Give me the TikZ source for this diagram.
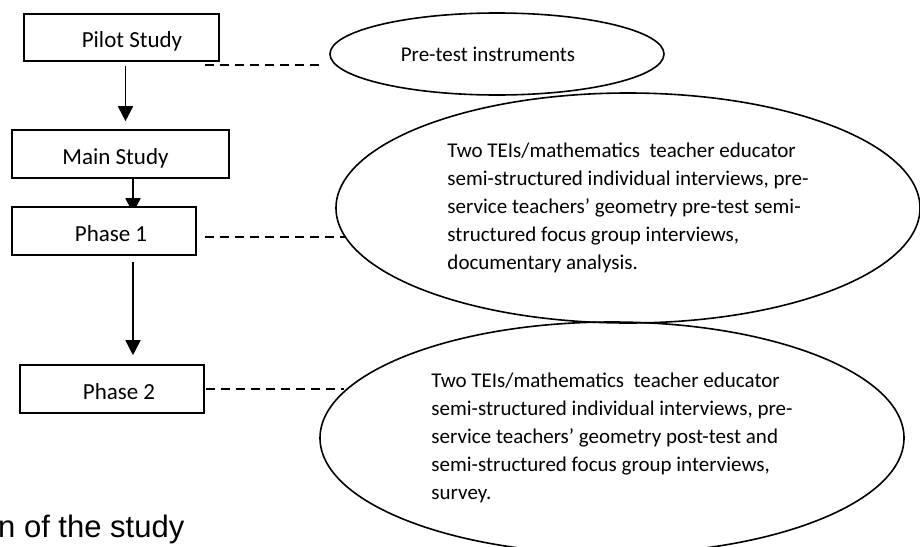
\documentclass[tikz,border=0pt]{standalone}
\usepackage{fontspec}
\setmainfont{Carlito}
\newfontfamily\capfont{Liberation Sans}
\usepackage{tikz}
\usetikzlibrary{shapes.geometric, arrows.meta, calc, backgrounds}
\tikzstyle{stage} = [rectangle, draw=black, fill=white, line width=1.6pt,
  minimum width=184pt, minimum height=48pt, inner sep=0pt,
  font=\fontsize{23}{28}\selectfont, text height=22pt, text depth=2pt]
\tikzstyle{method} = [ellipse, draw=black, line width=1.6pt,
  inner sep=0pt, align=left, font=\fontsize{21}{28}\selectfont]
\tikzstyle{figcap} = [anchor=base west, inner sep=0pt,
  font=\capfont\fontsize{31}{36}\selectfont]
\tikzstyle{arrow} = [-{Triangle[length=15pt, width=15pt]}, line width=1.6pt]
\tikzstyle{link} = [dash pattern=on 9pt off 6pt, line width=1.5pt]

\begin{document}
\begin{tikzpicture}[x=1pt, y=-1pt]
  \useasboundingbox (0,0) rectangle (920,546);

  % text sits a little off centre in the boxes
  \node[stage, minimum width=195pt, minimum height=47pt] (pilot) at (121.5,37.5) {\hspace*{21pt}Pilot Study};
  \node[stage, minimum width=217pt] (main) at (120.5,154) {Main Study\hspace*{10pt}};
  \node[stage] (p1) at (104,231) {\hspace*{14pt}Phase 1};
  \node[stage] (p2) at (112,389) {\hspace*{14pt}Phase 2};

  \node[method, minimum width=334pt, minimum height=82pt] (pre) at (497,54)
    {Pre-test instruments\hspace*{18pt}};
  \node[method, minimum width=584pt, minimum height=230pt] (e2) at (628,208)
    {Two TEIs/mathematics\ \ teacher educator\\
     semi-structured individual interviews, pre-\\
     service teachers’ geometry pre-test semi-\\
     structured focus group interviews,\\
     documentary analysis.};
  \node[method, minimum width=584pt, minimum height=232pt] (e3) at (612,438)
    {Two TEIs/mathematics\ \ teacher educator\\
     semi-structured individual interviews, pre-\\
     service teachers’ geometry post-test and\\
     semi-structured focus group interviews,\\
     survey.};

  \node[figcap] (cap) at (-2,537) {n of the study};

  % Main flow (behind the boxes)
  \coordinate (a0) at ($(pilot.south)+(4,4)$);
  \coordinate (a1) at ($(main.south)+(12.5,0)$);
  \coordinate (a2) at ($(p1.south)+(29,6)$);
  \begin{scope}[on background layer]
    \draw[arrow, shorten >=8pt] (a0) -- (a0 |- main.north);
    \draw[arrow, shorten >=-7pt] (a1) -- (a1 |- p1.north);
    \draw[arrow, shorten >=9pt] (a2) -- (a2 |- p2.north);
  \end{scope}

  % Dashed links to the instruments
  \coordinate (d0) at ($(pilot.south east)+(-15,3)$);
  \coordinate (d0e) at (d0 -| pre.west);
  \coordinate (d1) at ($(p1.east)+(8,6)$);
  \coordinate (d2) at ($(p2.east)+(1,0)$);
  \draw[link] (d0) -- ($(d0e)+(-5,0)$);
  \draw[link] (d1) -- (d1 -| e2.186);
  \draw[link] (d2) -- (d2 -| e3.190);

\end{tikzpicture}
\end{document}
